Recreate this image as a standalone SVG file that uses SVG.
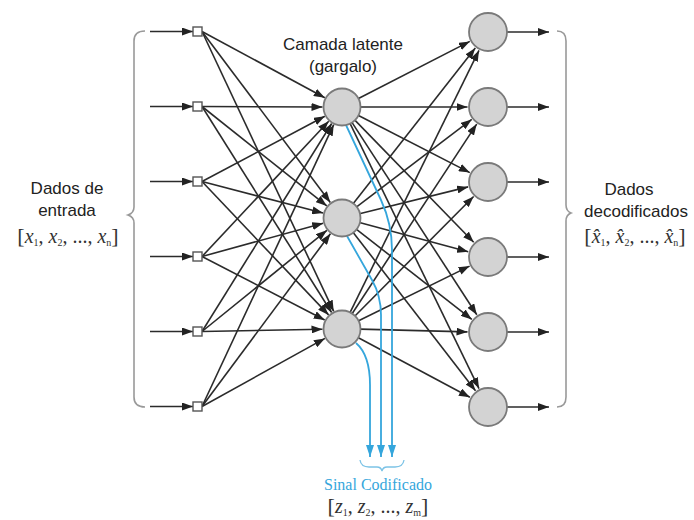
<svg xmlns="http://www.w3.org/2000/svg" width="694" height="520" viewBox="0 0 694 520">
<style>
.ln{stroke:#2b2b2b;stroke-width:1.6;fill:none;marker-end:url(#ah)}
.bl{stroke:#35a6dc;stroke-width:1.8;fill:none;marker-end:url(#bh)}
.nd{fill:#d3d3d3;stroke:#7a7a7a;stroke-width:1.8}
.sq{fill:#fff;stroke:#555;stroke-width:1.4}
.br{fill:none;stroke:#999;stroke-width:1.6}
.lbl{font-family:"Liberation Sans",Arial,sans-serif;font-size:17px;fill:#222;text-anchor:middle}
.math{font-family:"Liberation Serif","Times New Roman",serif;fill:#333;text-anchor:middle}
.it{font-style:italic;font-size:20px}
.sub{font-size:10px}
.bk{font-size:22px}
</style>
<defs>
<marker id="ah" markerUnits="userSpaceOnUse" markerWidth="11" markerHeight="8" refX="11" refY="4" orient="auto"><path d="M0,0 L11,4 L0,8 z" fill="#222"/></marker>
<marker id="bh" markerUnits="userSpaceOnUse" markerWidth="8" markerHeight="12" refX="4" refY="12" orient="0"><path d="M0,0 L8,0 L4,12 z" fill="#35a6dc"/></marker>
</defs>
<rect width="694" height="520" fill="#fff"/>
<g id="connectors">
<line class="ln" x1="150" y1="31.5" x2="193" y2="31.5"/>
<line class="ln" x1="150" y1="106.5" x2="193" y2="106.5"/>
<line class="ln" x1="150" y1="181.5" x2="193" y2="181.5"/>
<line class="ln" x1="150" y1="256.5" x2="193" y2="256.5"/>
<line class="ln" x1="150" y1="331.5" x2="193" y2="331.5"/>
<line class="ln" x1="150" y1="406.5" x2="193" y2="406.5"/>
<line class="ln" x1="202" y1="31.5" x2="324.8" y2="97.7"/>
<line class="ln" x1="202" y1="106.5" x2="322.5" y2="107"/>
<line class="ln" x1="202" y1="181.5" x2="324.8" y2="116.2"/>
<line class="ln" x1="202" y1="256.5" x2="328.7" y2="121.2"/>
<line class="ln" x1="202" y1="331.5" x2="331.7" y2="123.5"/>
<line class="ln" x1="202" y1="406.5" x2="333.7" y2="124.7"/>
<line class="ln" x1="202" y1="31.5" x2="330.3" y2="202.4"/>
<line class="ln" x1="202" y1="106.5" x2="326.8" y2="205.9"/>
<line class="ln" x1="202" y1="181.5" x2="323.1" y2="213.1"/>
<line class="ln" x1="202" y1="256.5" x2="323.2" y2="223.2"/>
<line class="ln" x1="202" y1="331.5" x2="326.9" y2="230.3"/>
<line class="ln" x1="202" y1="406.5" x2="330.4" y2="233.7"/>
<line class="ln" x1="202" y1="31.5" x2="333.7" y2="311.4"/>
<line class="ln" x1="202" y1="106.5" x2="331.6" y2="312.5"/>
<line class="ln" x1="202" y1="181.5" x2="328.6" y2="314.9"/>
<line class="ln" x1="202" y1="256.5" x2="324.7" y2="320"/>
<line class="ln" x1="202" y1="331.5" x2="322.5" y2="329.3"/>
<line class="ln" x1="202" y1="406.5" x2="324.9" y2="338.4"/>
<line class="ln" x1="358" y1="98.8" x2="469.8" y2="41.4"/>
<line class="ln" x1="360" y1="107" x2="467.5" y2="107"/>
<line class="ln" x1="358" y1="115.2" x2="469.8" y2="172.6"/>
<line class="ln" x1="354.6" y1="119.9" x2="473.7" y2="242.3"/>
<line class="ln" x1="351.8" y1="122.1" x2="476.8" y2="314.8"/>
<line class="ln" x1="349.9" y1="123.2" x2="479" y2="388.6"/>
<line class="ln" x1="353.1" y1="203.8" x2="475.3" y2="48.1"/>
<line class="ln" x1="356.3" y1="207.1" x2="471.7" y2="119.4"/>
<line class="ln" x1="359.5" y1="213.7" x2="468.1" y2="186.9"/>
<line class="ln" x1="359.4" y1="222.6" x2="468.2" y2="251.7"/>
<line class="ln" x1="356.2" y1="229.1" x2="471.8" y2="319.4"/>
<line class="ln" x1="353" y1="232.2" x2="475.5" y2="390.8"/>
<line class="ln" x1="349.9" y1="312.8" x2="479" y2="50.4"/>
<line class="ln" x1="351.9" y1="314" x2="476.7" y2="124.1"/>
<line class="ln" x1="354.7" y1="316.2" x2="473.6" y2="196.5"/>
<line class="ln" x1="358.1" y1="321" x2="469.6" y2="266.1"/>
<line class="ln" x1="360" y1="329.1" x2="467.5" y2="331.9"/>
<line class="ln" x1="357.9" y1="337.5" x2="469.9" y2="397.3"/>
<line class="ln" x1="507" y1="32" x2="549" y2="32"/>
<line class="ln" x1="507" y1="107" x2="549" y2="107"/>
<line class="ln" x1="507" y1="182" x2="549" y2="182"/>
<line class="ln" x1="507" y1="257" x2="549" y2="257"/>
<line class="ln" x1="507" y1="332" x2="549" y2="332"/>
<line class="ln" x1="507" y1="407" x2="549" y2="407"/>
<path class="bl" d="M346,125 L381,200 Q392,224 392,250 L392,457"/>
<path class="bl" d="M347,236 L372,280 Q381,296 381,315 L381,457"/>
<path class="bl" d="M356,343 Q370,355 370,385 L370,457"/>
</g>
<g id="braces">
<path class="br" d="M145,31 Q134,31 134,41 L134,207 Q134,213 128,215 Q134,217 134,223 L134,397 Q134,407 145,407"/>
<path class="br" d="M557,31 Q566,31 566,41 L566,205 Q566,211 571,213 Q566,215 566,221 L566,397 Q566,407 557,407"/>
<path d="M360,460 Q361,467 369,467 L377,467 Q381,467 382,471 Q383,467 387,467 L395,467 Q403,467 404,460" fill="none" stroke="#7cc3e6" stroke-width="1.3"/>
</g>
<g id="inputs">
<rect class="sq" x="193" y="27" width="9" height="9"/>
<rect class="sq" x="193" y="102" width="9" height="9"/>
<rect class="sq" x="193" y="177" width="9" height="9"/>
<rect class="sq" x="193" y="252" width="9" height="9"/>
<rect class="sq" x="193" y="327" width="9" height="9"/>
<rect class="sq" x="193" y="402" width="9" height="9"/>
</g>
<g id="hidden1"><circle class="nd" cx="342" cy="107" r="18.5"/></g>
<g id="hidden2"><circle class="nd" cx="342" cy="218" r="18.5"/></g>
<g id="hidden3"><circle class="nd" cx="342" cy="329" r="18.5"/></g>
<g id="out1"><circle class="nd" cx="488" cy="32" r="19"/></g>
<g id="out2"><circle class="nd" cx="488" cy="107" r="19"/></g>
<g id="out3"><circle class="nd" cx="488" cy="182" r="19"/></g>
<g id="out4"><circle class="nd" cx="488" cy="257" r="19"/></g>
<g id="out5"><circle class="nd" cx="488" cy="332" r="19"/></g>
<g id="out6"><circle class="nd" cx="488" cy="407" r="19"/></g>
<g id="labels">
<text class="lbl" x="343" y="50">Camada latente</text>
<text class="lbl" x="343" y="72">(gargalo)</text>
<text class="lbl" x="67" y="194">Dados de</text>
<text class="lbl" x="67" y="216">entrada</text>
<text class="math" x="68" y="243"><tspan class="bk">[</tspan><tspan class="it">x</tspan><tspan class="sub" dy="3">1</tspan><tspan font-size="20" dy="-3">, </tspan><tspan class="it">x</tspan><tspan class="sub" dy="3">2</tspan><tspan font-size="20" dy="-3">, ..., </tspan><tspan class="it">x</tspan><tspan class="sub" dy="3">n</tspan><tspan class="bk" dy="-3">]</tspan></text>
<text class="lbl" x="629" y="195">Dados</text>
<text class="lbl" x="636" y="217" font-size="16.5">decodificados</text>
<text class="math" x="635" y="243"><tspan class="bk">[</tspan><tspan class="it">x̂</tspan><tspan class="sub" dy="3">1</tspan><tspan font-size="20" dy="-3">, </tspan><tspan class="it">x̂</tspan><tspan class="sub" dy="3">2</tspan><tspan font-size="20" dy="-3">, ..., </tspan><tspan class="it">x̂</tspan><tspan class="sub" dy="3">n</tspan><tspan class="bk" dy="-3">]</tspan></text>
<text x="378" y="490" font-family="Liberation Serif,Times New Roman,serif" font-size="16" fill="#35a6dc" text-anchor="middle">Sinal Codificado</text>
<text class="math" x="378" y="513"><tspan class="bk">[</tspan><tspan class="it">z</tspan><tspan class="sub" dy="3">1</tspan><tspan font-size="20" dy="-3">, </tspan><tspan class="it">z</tspan><tspan class="sub" dy="3">2</tspan><tspan font-size="20" dy="-3">, ..., </tspan><tspan class="it">z</tspan><tspan class="sub" dy="3">m</tspan><tspan class="bk" dy="-3">]</tspan></text>
</g>
</svg>
